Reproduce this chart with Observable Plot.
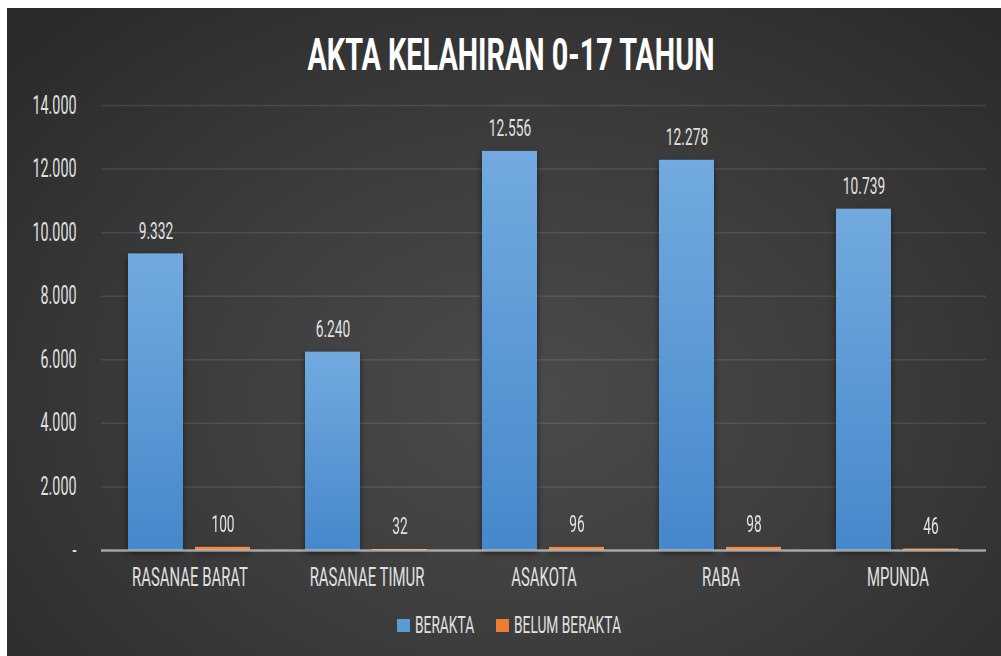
<!DOCTYPE html>
<html><head><meta charset="utf-8">
<script src="https://cdn.jsdelivr.net/npm/d3@7"></script>
<script src="https://cdn.jsdelivr.net/npm/@observablehq/plot@0.6"></script>
<style>
html,body{margin:0;padding:0;background:#fff;width:1001px;height:656px;overflow:hidden}
#panel{position:absolute;left:7px;top:8px;width:994px;height:648px;overflow:hidden;
 background:radial-gradient(ellipse 68% 78% at 52% 60%, #4b4b4b 0%, #3e3e3e 45%, #2b2b2b 100%);
 font-family:Roboto, "DejaVu Sans", sans-serif;}
#title{position:absolute;top:24px;left:503.5px;font-size:45px;line-height:45px;font-weight:700;color:#fff;
 white-space:nowrap;display:inline-block;transform-origin:50% 50%;}
#chart{position:absolute;left:0;top:74px;}
#legend{position:absolute;top:605px;left:5px;width:994px;height:24px;display:flex;align-items:center;justify-content:center;}
#legend .sw{width:13px;height:13px;flex:0 0 auto;margin-right:5px;}
#legend .lt{flex:0 0 auto;font-size:24px;line-height:24px;color:#e0e0e0;white-space:nowrap;margin-right:22px;}
#legend .lt:last-child{margin-right:0}
#legend .lt span{display:inline-block;transform-origin:0 50%;}
</style>
</head><body>
<div id="panel">
  <div id="title">AKTA KELAHIRAN 0-17 TAHUN</div>
  <div id="chart"></div>
  <div id="legend"></div>
</div>
<script>
const categories = ["RASANAE BARAT", "RASANAE TIMUR", "ASAKOTA", "RABA", "MPUNDA"];
const series = ["BERAKTA", "BELUM BERAKTA"];
const berakta = [9332, 6240, 12556, 12278, 10739];
const belumBerakta = [100, 32, 96, 98, 46];
const yTicks = [0, 2000, 4000, 6000, 8000, 10000, 12000, 14000];
const seriesColors = ["#5b9bd5", "#ed7d31"];

const rows = categories.flatMap((c, i) => [
  {category: c, series: series[0], value: berakta[i]},
  {category: c, series: series[1], value: belumBerakta[i]}
]);

const fmt = d3.formatLocale({decimal: ",", thousands: ".", grouping: [3], currency: ["", ""]}).format(",d");
const tickFmt = v => v === 0 ? "-" : fmt(v);

const chart = Plot.plot({
  width: 994, height: 508,
  marginLeft: 92, marginRight: 13, marginTop: 23, marginBottom: 40,
  style: {background: "transparent", fontFamily: "Roboto, 'DejaVu Sans', sans-serif", color: "#e0e0e0", overflow: "visible"},
  fx: {domain: categories, padding: 0, label: null},
  x: {domain: series, paddingInner: 0.176, paddingOuter: 0.395, axis: null},
  y: {domain: [0, 14000], label: null},
  color: {domain: series, range: ["url(#gBlue)", "url(#gOrange)"]},
  marks: [
    Plot.gridY(yTicks, {stroke: "#ffffff", strokeOpacity: 0.1, strokeWidth: 1.5}),
    Plot.axisY(yTicks, {tickSize: 0, tickPadding: 25, tickFormat: tickFmt, fontSize: 25, fill: "#e0e0e0", label: null}),
    Plot.axisFx({anchor: "bottom", tickSize: 0, tickPadding: 17, fontSize: 26, fill: "#e0e0e0", label: null}),
    Plot.barY(rows, {fx: "category", x: "series", y: "value", fill: "series"}),
    Plot.ruleY([0], {stroke: "#d9d9d9", strokeOpacity: 0.65, strokeWidth: 2.5}),
    Plot.text(rows, {fx: "category", x: "series", y: "value", text: d => fmt(d.value), dy: -23, lineAnchor: "middle", fontSize: 24, fill: "#e0e0e0"})
  ]
});

const svg = d3.select(chart);
const defs = svg.insert("defs", ":first-child");
const gb = defs.append("linearGradient").attr("id", "gBlue").attr("x1", 0).attr("y1", 0).attr("x2", 0).attr("y2", 1);
gb.append("stop").attr("offset", "0%").attr("stop-color", "#72aadf");
gb.append("stop").attr("offset", "100%").attr("stop-color", "#4588cb");
const go = defs.append("linearGradient").attr("id", "gOrange").attr("x1", 0).attr("y1", 0).attr("x2", 0).attr("y2", 1);
go.append("stop").attr("offset", "0%").attr("stop-color", "#f58f47");
go.append("stop").attr("offset", "100%").attr("stop-color", "#ed7d31");
svg.selectAll('g[aria-label="bar"]').style("filter", "drop-shadow(0px 3px 3px rgba(0,0,0,0.5))");

document.getElementById("chart").appendChild(chart);

// calibrate condensed look
const cv = document.createElement("canvas").getContext("2d");
cv.font = "26px Roboto";
const ratio = 116 / cv.measureText("RASANAE BARAT").width;
svg.selectAll("text").each(function() {
  const L = this.getComputedTextLength();
  if (L > 0) {
    this.setAttribute("textLength", (L * ratio).toFixed(2));
    this.setAttribute("lengthAdjust", "spacingAndGlyphs");
  }
});

// title
const title = document.getElementById("title");
const tw = title.getBoundingClientRect().width;
title.style.transform = `translateX(-50%) scaleX(${407 / tw})`;

// legend
const legend = d3.select("#legend");
series.forEach((s, i) => {
  legend.append("span").attr("class", "sw").style("background", seriesColors[i]);
  legend.append("span").attr("class", "lt").append("span").text(s);
});
legend.selectAll(".lt").each(function() {
  const inner = this.firstChild;
  const w = inner.getBoundingClientRect().width;
  this.style.width = (w * ratio) + "px";
  inner.style.transform = `scaleX(${ratio})`;
});
</script>
</body></html>
